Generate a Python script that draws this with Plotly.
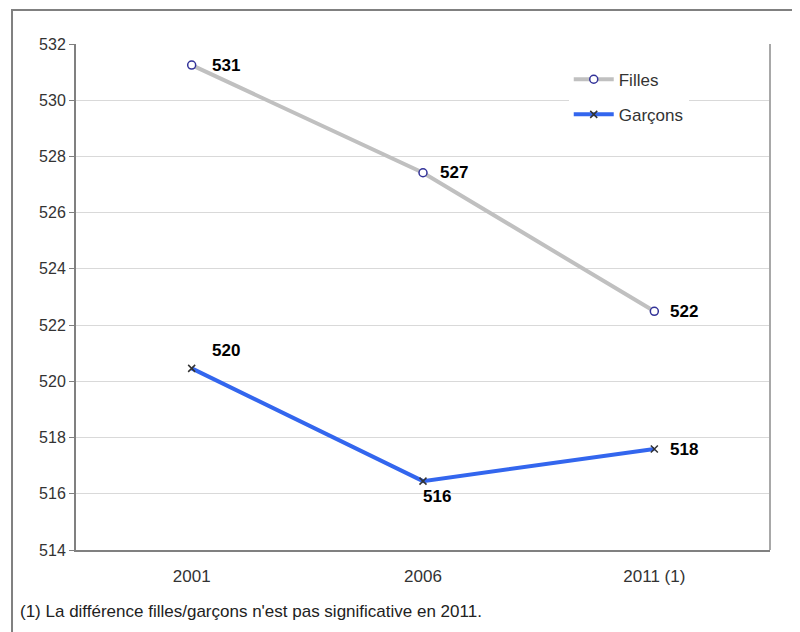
import plotly.graph_objects as go

years = ["2001", "2006", "2011 (1)"]
filles = [531.25, 527.42, 522.49]
garcons = [520.46, 516.45, 517.59]
filles_labels = ["531", "527", "522"]
garcons_labels = ["520", "516", "518"]
y_ticks = [514, 516, 518, 520, 522, 524, 526, 528, 530, 532]
footnote = "(1) La différence filles/garçons n'est pas significative en 2011."

FONT = "Liberation Sans, Arial, sans-serif"

fig = go.Figure()
fig.add_trace(go.Scatter(
    x=years, y=filles, name="Filles", mode="lines+markers", legendgroup="f",
    line=dict(color="#c0c0c0", width=4),
    marker=dict(symbol="circle", size=8, color="white", line=dict(width=1.5, color="#333399")),
))
fig.add_trace(go.Scatter(
    x=years, y=garcons, name="Garçons", mode="lines+markers", legendgroup="g",
    line=dict(color="#3366ee", width=4),
    marker=dict(symbol="x-thin-open", size=7, color="#333333", line=dict(width=1.5, color="#333333")),
))

# data labels (positioned by category index on the category axis)
f_shift = [(34, 0), (31, 0), (30, 0)]
g_shift = [(34, 18), (14, -15), (30, 0)]
for i in range(len(years)):
    fig.add_annotation(x=i, y=filles[i], text="<b>%s</b>" % filles_labels[i], showarrow=False,
                       xshift=f_shift[i][0], yshift=f_shift[i][1],
                       font=dict(family=FONT, size=17, color="#000000"))
    fig.add_annotation(x=i, y=garcons[i], text="<b>%s</b>" % garcons_labels[i], showarrow=False,
                       xshift=g_shift[i][0], yshift=g_shift[i][1],
                       font=dict(family=FONT, size=17, color="#000000"))

fig.add_annotation(x=-0.0836, y=-0.1225, xref="paper", yref="paper", xanchor="left", yanchor="middle",
                   text=footnote, showarrow=False, font=dict(family=FONT, size=17, color="#222222"))

# outer chart border
fig.add_shape(type="rect", xref="paper", yref="paper", x0=-0.0922, x1=1.2, y0=-0.4, y1=1.0672,
              line=dict(color="#808080", width=2), layer="below")
# plot area right border
fig.add_shape(type="line", xref="paper", yref="paper", x0=1, x1=1, y0=0, y1=1,
              line=dict(color="#a8a8a8", width=2))

fig.update_layout(
    width=800, height=632,
    margin=dict(l=68, r=38, t=36, b=90),
    paper_bgcolor="white", plot_bgcolor="white",
    font=dict(family=FONT, size=15, color="#333333"),
    showlegend=True,
    legend=dict(x=0.71, y=0.965, xanchor="left", yanchor="top", bgcolor="white",
                itemwidth=40,
                font=dict(family=FONT, size=17, color="#333333"), tracegroupgap=10),
    xaxis=dict(type="category", range=[-0.5, 2.5], showgrid=False, showline=True,
               linecolor="#808080", linewidth=2, ticks="", tickfont=dict(size=17, color="#333333"),
               ticklabelstandoff=10, fixedrange=True),
    yaxis=dict(range=[514, 532], tickvals=y_ticks, showgrid=True, gridcolor="#d9d9d9", gridwidth=1,
               showline=True, linecolor="#808080", linewidth=2, ticks="outside", ticklen=5,
               tickcolor="#808080", tickfont=dict(size=16, color="#333333"), zeroline=False),
)

fig.write_html("out.html")
